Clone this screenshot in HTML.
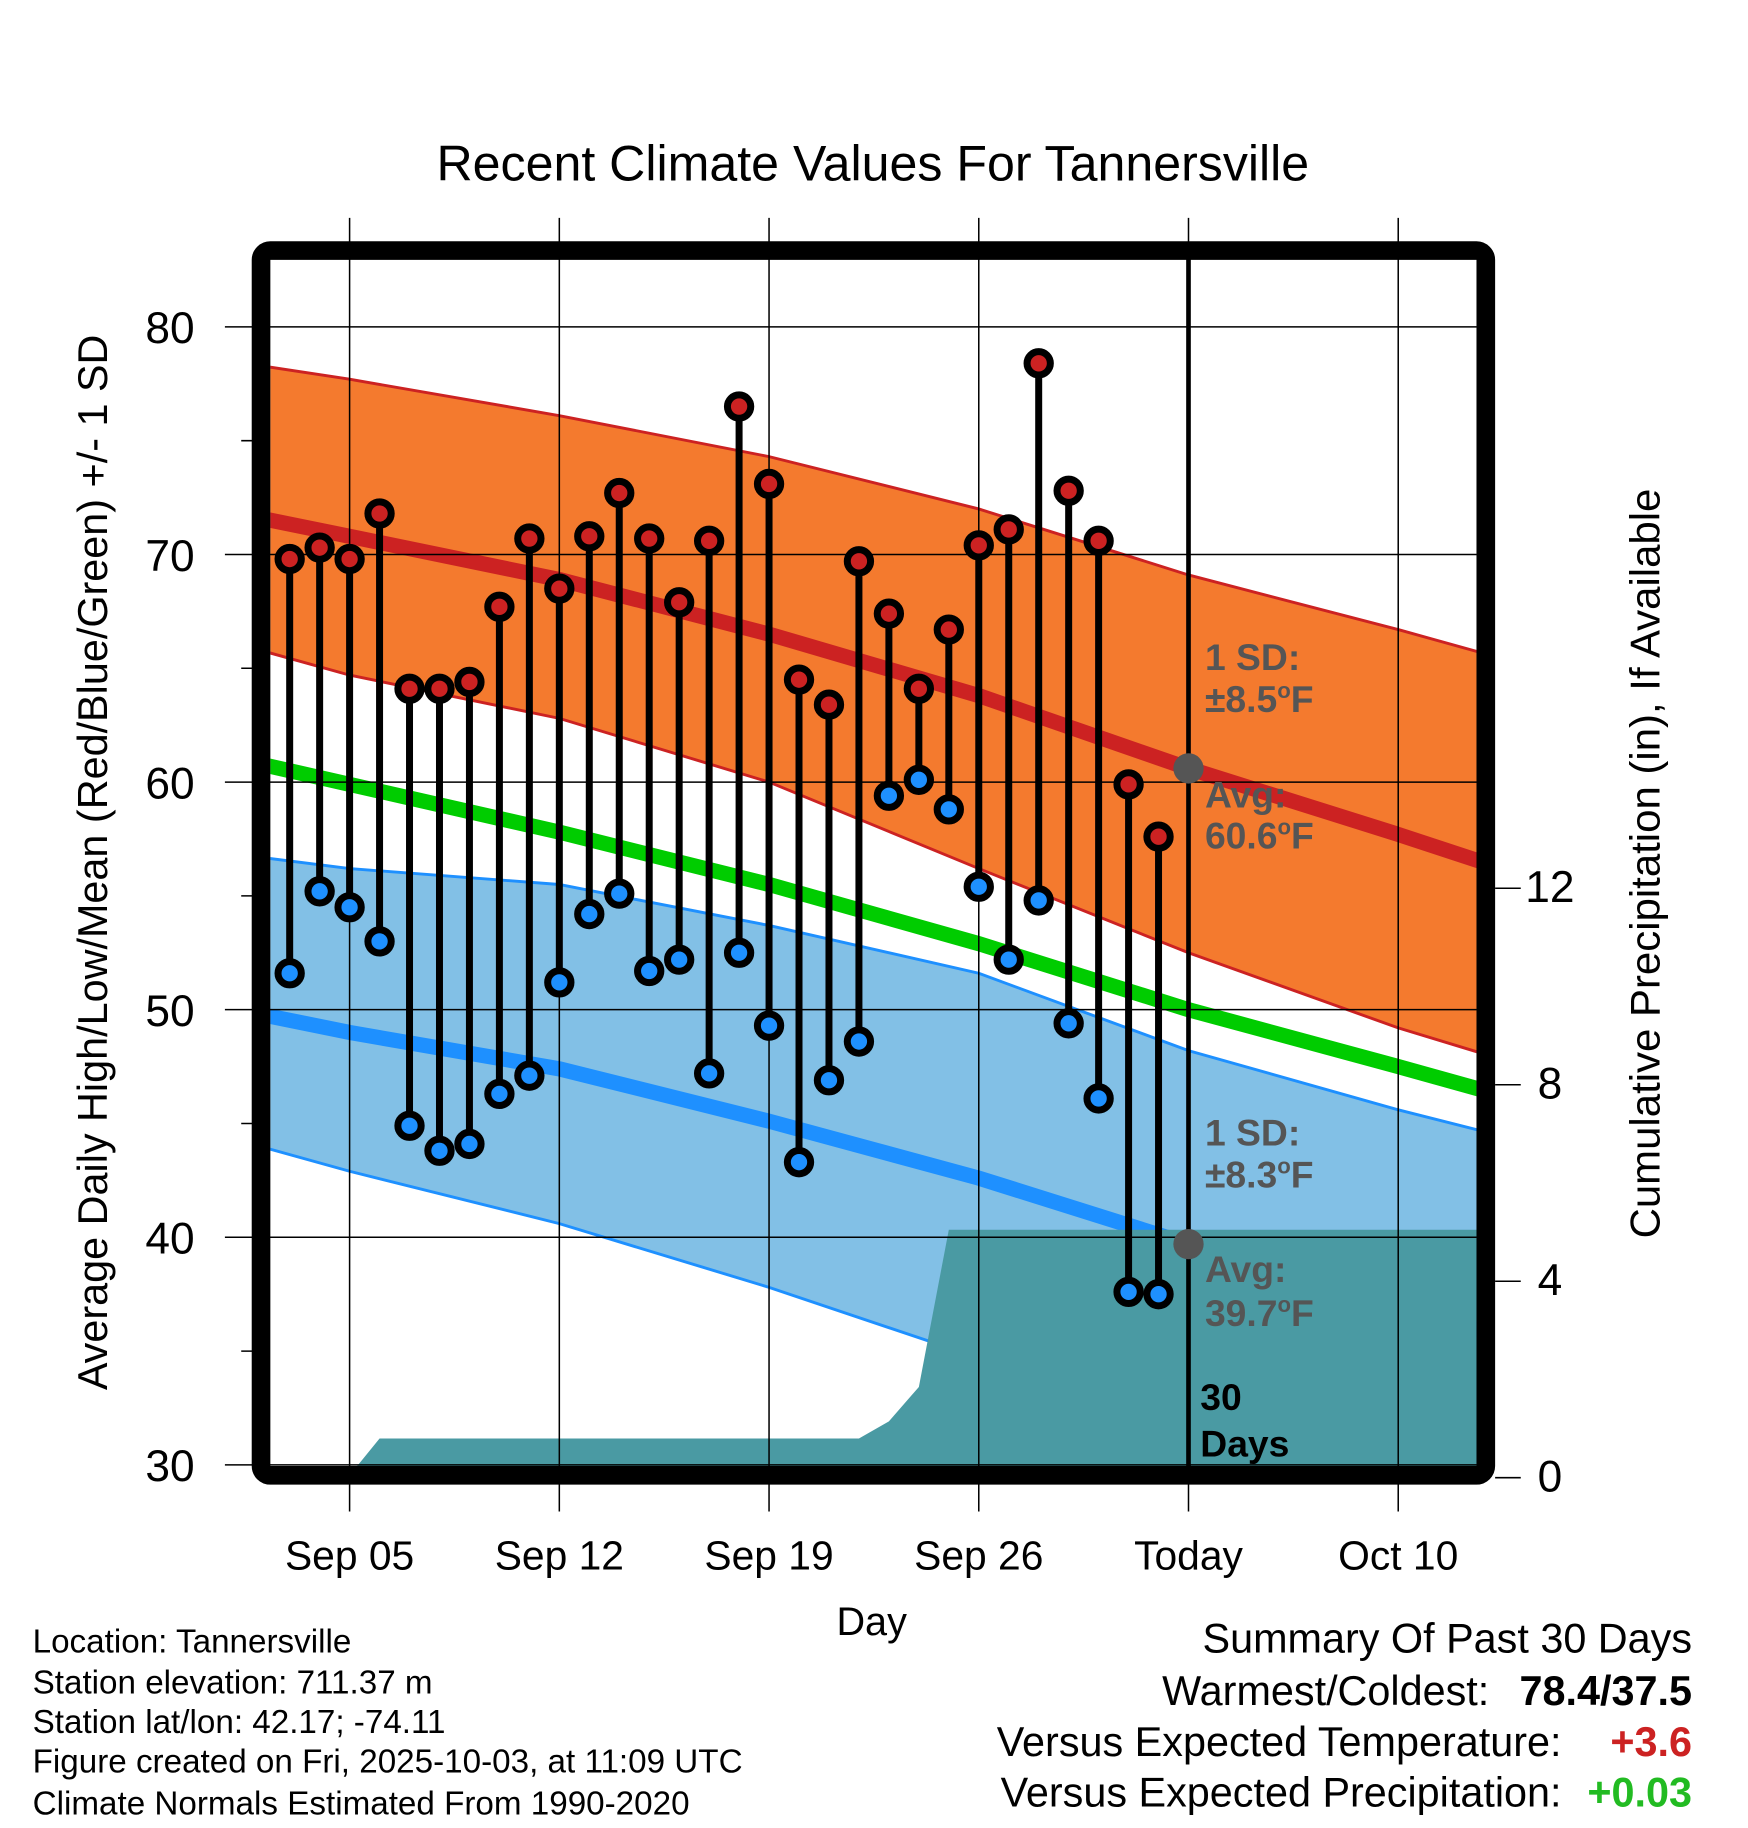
<!DOCTYPE html>
<html><head><meta charset="utf-8"><style>
html,body{margin:0;padding:0;background:#fff;}
svg{display:block;font-family:"Liberation Sans",Arial,sans-serif;}
</style></head><body>
<svg id="chart" width="1748" height="1828" viewBox="0 0 1500 1568.6" preserveAspectRatio="none" xmlns="http://www.w3.org/2000/svg">
<defs><clipPath id="plotclip"><rect x="232" y="223" width="1035" height="1036"/></clipPath></defs>
<g id="plot" clip-path="url(#plotclip)"></g>
<g id="over"></g>
</svg>
<script>
// ---- data ----
const days = ["Sep 03","Sep 04","Sep 05","Sep 06","Sep 07","Sep 08","Sep 09","Sep 10","Sep 11","Sep 12","Sep 13","Sep 14","Sep 15","Sep 16","Sep 17","Sep 18","Sep 19","Sep 20","Sep 21","Sep 22","Sep 23","Sep 24","Sep 25","Sep 26","Sep 27","Sep 28","Sep 29","Sep 30","Oct 01","Oct 02"];
const highs = [69.8,70.3,69.8,71.8,64.1,64.1,64.4,67.7,70.7,68.5,70.8,72.7,70.7,67.9,70.6,76.5,73.1,64.5,63.4,69.7,67.4,64.1,66.7,70.4,71.1,78.4,72.8,70.6,59.9,57.6];
const lows = [51.6,55.2,54.5,53.0,44.9,43.8,44.1,46.3,47.1,51.2,54.2,55.1,51.7,52.2,47.2,52.5,49.3,43.3,46.9,48.6,59.4,60.1,58.8,55.4,52.2,54.8,49.4,46.1,37.6,37.5];
const precip = [0,0,0,0.75,0.75,0.75,0.75,0.75,0.75,0.75,0.75,0.75,0.75,0.75,0.75,0.75,0.75,0.75,0.75,0.75,1.1,1.8,5.0,5.0,5.0,5.0,5.0,5.0,5.0,5.0];
// normals at knot days (days since Sep 05)
const knotDays = [-3,0,7,14,21,28,35,38];
const normHigh = [71.6,70.8,68.9,66.5,63.8,60.6,57.7,56.4];
const highUpper = [78.3,77.7,76.1,74.3,72.0,69.1,66.7,65.6];
const highLower = [65.8,64.7,62.8,60.0,56.2,52.5,49.2,48.0];
const normMean = [60.8,59.9,57.8,55.5,52.9,50.0,47.5,46.4];
const normLow = [49.8,49.0,47.4,45.1,42.6,39.7,37.0,35.8];
const lowUpper = [56.7,56.2,55.5,53.7,51.6,48.2,45.6,44.6];
const lowLower = [44.0,42.9,40.6,37.8,34.7,31.6,28.5,27.0];
const xTickLabels = ["Sep 05","Sep 12","Sep 19","Sep 26","Today","Oct 10"];
const xTickDays = [0,7,14,21,28,35];
const yTicks = [30,40,50,60,70,80];
const pTicks = [0,4,8,12];

// ---- axes ----
const X = d => 300 + d*25.71;
const Y = t => 1257 - (t-30)*19.53;
const P = p => 1266 - p*42.15;
const NS = "http://www.w3.org/2000/svg";
const plot = document.getElementById('plot');
const over = document.getElementById('over');
function mk(tag, attrs, parent, text){
  const e = document.createElementNS(NS, tag);
  for (const k in attrs) e.setAttribute(k, attrs[k]);
  if (text !== undefined) e.textContent = text;
  parent.appendChild(e); return e;
}
const firstDay = -2;
function bandPath(up, lo){
  let s = '';
  knotDays.forEach((d,i)=>{ s += (i?'L':'M') + X(d) + ',' + Y(up[i]) + ' '; });
  for (let i=knotDays.length-1;i>=0;i--) s += 'L' + X(knotDays[i]) + ',' + Y(lo[i]) + ' ';
  return s + 'Z';
}
function linePath(v){ let s=''; knotDays.forEach((d,i)=>{ s += (i?'L':'M') + X(d) + ',' + Y(v[i]) + ' '; }); return s; }

let e;
e = mk('path',{d:bandPath(lowUpper,lowLower),fill:'#82c0e6',stroke:'#1e90ff','stroke-width':2.5},plot);
 
e = mk('path',{d:bandPath(highUpper,highLower),fill:'#f47a2e',stroke:'#cc2222','stroke-width':2.5},plot);
 
e = mk('path',{d:linePath(normHigh),fill:'none',stroke:'#cc2222','stroke-width':13},plot);
 
e = mk('path',{d:linePath(normMean),fill:'none',stroke:'#00cc00','stroke-width':13},plot);
 
e = mk('path',{d:linePath(normLow),fill:'none',stroke:'#1e90ff','stroke-width':13},plot);
 

let pp = 'M' + X(firstDay) + ',' + P(0);
precip.forEach((v,i)=>{ pp += ' L' + X(firstDay+i) + ',' + P(v); });
pp += ' L1270,' + P(precip[precip.length-1]) + ' L1270,' + P(0) + ' Z';
e = mk('path',{d:pp,fill:'#4a9aa3'},plot);
 

yTicks.forEach(t=>{
  const g = mk('line',{x1:193,x2:1267,y1:Y(t),y2:Y(t),stroke:'#000','stroke-width':1.3},over);
   
  const l = mk('text',{x:167,y:Y(t)+14,'font-size':38,'text-anchor':'end'},over,String(t));
   
  if (t<80){
    const m = mk('line',{x1:207,x2:224,y1:Y(t+5),y2:Y(t+5),stroke:'#000','stroke-width':1.3},over);
     
  }
});
xTickDays.forEach((d,i)=>{
  const g = mk('line',{x1:X(d),x2:X(d),y1:187,y2:1297,stroke:'#000','stroke-width':1.3},over);
   
  const l = mk('text',{x:X(d),y:1347,'font-size':35,'text-anchor':'middle'},over,xTickLabels[i]);
   
});
pTicks.forEach(p=>{
  const g = mk('line',{x1:1283,x2:1305,y1:P(p)+2,y2:P(p)+2,stroke:'#000','stroke-width':1.3},over);
   
  const l = mk('text',{x:1330,y:P(p)+14,'font-size':38,'text-anchor':'middle'},over,String(p));
   
});

e = mk('line',{x1:X(28),x2:X(28),y1:222,y2:1262,stroke:'#000','stroke-width':4},over);
 

highs.forEach((h,i)=>{
  const x = X(firstDay+i);
  const s = mk('line',{x1:x,x2:x,y1:Y(h),y2:Y(lows[i]),stroke:'#000','stroke-width':6},over);
   
});
highs.forEach((h,i)=>{
  const x = X(firstDay+i);
  const c1 = mk('circle',{cx:x,cy:Y(h),r:10,fill:'#cc2222',stroke:'#000','stroke-width':6},over);
   
  const c2 = mk('circle',{cx:x,cy:Y(lows[i]),r:10,fill:'#1e90ff',stroke:'#000','stroke-width':6},over);
   
});
e = mk('circle',{cx:X(28),cy:Y(normHigh[5]),r:13,fill:'#555'},over);
 
e = mk('circle',{cx:X(28),cy:Y(normLow[5]),r:13,fill:'#555'},over);
 
</script>
<svg style="position:absolute;left:0;top:0" width="1748" height="1828" viewBox="0 0 1500 1568.6" preserveAspectRatio="none" xmlns="http://www.w3.org/2000/svg" font-family="Liberation Sans, Arial, sans-serif">
<rect x="224" y="215" width="1051" height="1051" rx="8" fill="none" stroke="#000" stroke-width="16"/>
<text x="749" y="155" font-size="43" text-anchor="middle">Recent Climate Values For Tannersville</text>
<text transform="translate(92,740) rotate(-90)" font-size="35.5" text-anchor="middle">Average Daily High/Low/Mean (Red/Blue/Green) +/- 1 SD</text>
<text transform="translate(1424,741) rotate(-90)" font-size="36" text-anchor="middle">Cumulative Precipitation (in), If Available</text>
<text x="748" y="1403" font-size="34" text-anchor="middle">Day</text>
<g fill="#555" font-weight="bold" font-size="32">
<text x="1034" y="575">1 SD:</text><text x="1034" y="611">±8.5<tspan font-size="19" dy="-12">o</tspan><tspan dy="12">F</tspan></text>
<text x="1034" y="693">Avg:</text><text x="1034" y="728">60.6<tspan font-size="19" dy="-12">o</tspan><tspan dy="12">F</tspan></text>
</g>
<g fill="#555" font-weight="bold" font-size="32">
<text x="1034" y="983">1 SD:</text><text x="1034" y="1019">±8.3<tspan font-size="19" dy="-12">o</tspan><tspan dy="12">F</tspan></text>
<text x="1034" y="1100">Avg:</text><text x="1034" y="1138">39.7<tspan font-size="19" dy="-12">o</tspan><tspan dy="12">F</tspan></text>
</g>
<g font-weight="bold" font-size="32">
<text x="1030" y="1210">30</text><text x="1030" y="1250">Days</text></g>
<g font-size="28.5">
<text x="28" y="1418">Location: Tannersville</text>
<text x="28" y="1453">Station elevation: 711.37 m</text>
<text x="28" y="1487">Station lat/lon: 42.17; -74.11</text>
<text x="28" y="1521">Figure created on Fri, 2025-10-03, at 11:09 UTC</text>
<text x="28" y="1557">Climate Normals Estimated From 1990-2020</text>
</g>
<g font-size="35.5">
<text x="1452" y="1418" text-anchor="end">Summary Of Past 30 Days</text>
<text x="1278" y="1463" text-anchor="end">Warmest/Coldest:</text>
<text x="1452" y="1463" text-anchor="end" font-weight="bold">78.4/37.5</text>
<text x="1340" y="1507" text-anchor="end">Versus Expected Temperature:</text>
<text x="1452" y="1507" text-anchor="end" font-weight="bold" fill="#cc2222">+3.6</text>
<text x="1340" y="1550" text-anchor="end">Versus Expected Precipitation:</text>
<text x="1452" y="1550" text-anchor="end" font-weight="bold" fill="#22bb22">+0.03</text>
</g>
</svg>
</body></html>
